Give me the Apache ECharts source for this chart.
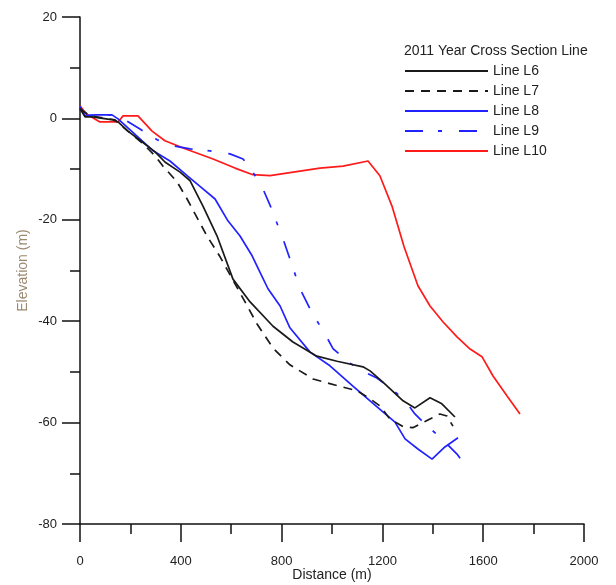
<!DOCTYPE html>
<html>
<head>
<meta charset="utf-8">
<script src="https://cdn.jsdelivr.net/npm/echarts@6/dist/echarts.min.js"></script>
<style>html,body{margin:0;padding:0;background:#fff;}#c{width:616px;height:585px;}</style>
</head>
<body>
<div id="c"></div>
<script>
var legendTitle = '2011 Year Cross Section Line';
var seriesNames = ['Line L6', 'Line L7', 'Line L8', 'Line L9', 'Line L10'];
var xTicks = [0, 400, 800, 1200, 1600, 2000];
var yTicks = [-80, -60, -40, -20, 0, 20];

var l6Dist = [0, 20, 48, 131, 151, 190, 246, 298, 337, 397, 437, 488, 544, 607, 675, 766, 845, 940, 1020, 1123, 1151, 1202, 1282, 1329, 1389, 1436, 1488];
var l6Elev = [1.9, 0.3, 0.3, -0.3, -0.7, -2.5, -4.6, -6.6, -8.6, -10.6, -12.3, -17.3, -23.2, -31.7, -36.2, -41.0, -44.1, -46.9, -47.9, -49.0, -49.8, -52.0, -55.7, -57.1, -55.1, -56.3, -58.9];

var l7Dist = [0, 40, 139, 190, 246, 298, 329, 385, 425, 456, 504, 556, 607, 655, 702, 766, 833, 925, 1020, 1099, 1151, 1190, 1230, 1282, 1321, 1369, 1428, 1456, 1480];
var l7Elev = [1.9, 0.5, -0.3, -2.5, -4.8, -7.4, -9.4, -12.5, -15.9, -18.8, -23.2, -27.3, -31.9, -36.2, -40.5, -45.3, -48.6, -51.4, -52.7, -53.7, -55.3, -56.7, -59.3, -60.8, -61.0, -59.8, -58.3, -58.7, -60.7];

var l8Dist = [0, 20, 60, 127, 151, 226, 290, 357, 425, 488, 536, 587, 635, 683, 714, 746, 794, 833, 913, 992, 1083, 1151, 1202, 1250, 1290, 1341, 1397, 1448, 1500];
var l8Elev = [2.3, 0.5, 0.7, 0.7, -0.1, -3.5, -6.4, -8.4, -11.3, -13.9, -15.9, -20.2, -23.2, -27.1, -30.3, -33.6, -37.0, -41.3, -46.1, -48.8, -52.8, -55.7, -57.9, -59.9, -63.2, -65.2, -67.2, -64.8, -63.0];

var l9Dist = [0, 20, 60, 127, 159, 179, 238, 306, 369, 437, 516, 595, 647, 686, 726, 754, 778, 806, 833, 873, 913, 940, 972, 1004, 1063, 1119, 1178, 1238, 1290, 1329, 1381, 1436, 1496, 1532];
var l9Elev = [2.3, 0.5, 0.7, 0.7, 0.1, -0.3, -2.1, -4.2, -5.4, -6.0, -6.4, -7.0, -8.0, -10.6, -13.9, -17.1, -20.2, -23.8, -27.7, -33.6, -37.6, -39.9, -42.5, -45.4, -48.0, -49.8, -51.2, -53.4, -55.7, -58.3, -60.8, -63.2, -66.2, -68.7];

var l10Dist = [0, 24, 79, 151, 171, 230, 286, 337, 417, 528, 615, 686, 754, 952, 1044, 1143, 1190, 1238, 1286, 1341, 1389, 1440, 1496, 1548, 1595, 1639, 1694, 1746];
var l10Elev = [2.5, 0.9, -0.7, -0.7, 0.5, 0.5, -2.5, -4.4, -6.0, -8.0, -9.8, -11.1, -11.3, -9.8, -9.4, -8.4, -11.3, -17.3, -25.3, -33.0, -37.0, -40.1, -43.1, -45.5, -47.0, -50.8, -54.7, -58.3];

function pairs(xs, ys) { return xs.map(function (x, i) { return [x, ys[i]]; }); }

var allDist = [l6Dist, l7Dist, l8Dist, l9Dist, l10Dist];
var allElev = [l6Elev, l7Elev, l8Elev, l9Elev, l10Elev];
var colors = ['#1a1a1a', '#1a1a1a', '#2222ff', '#2222ff', '#ff1a1a'];
var dashes = ['solid', [9, 7], 'solid', [18, 15, 4, 17], 'solid'];

var FONT = '"Liberation Sans", Arial, sans-serif';

var chart = echarts.init(document.getElementById('c'));
chart.setOption({
  animation: false,
  backgroundColor: '#ffffff',
  title: {
    text: legendTitle,
    left: 404, top: 44, padding: 0,
    textStyle: { fontFamily: FONT, fontSize: 14, fontWeight: 'normal', color: '#222' }
  },
  legend: {
    orient: 'vertical',
    left: 404, top: 64,
    itemWidth: 83, itemHeight: 14, itemGap: 6,
    padding: 0,
    itemStyle: { opacity: 0 },
    textStyle: { fontFamily: FONT, fontSize: 14, color: '#222', lineHeight: 14 },
    data: seriesNames
  },
  grid: { left: 80, right: 32, top: 17, bottom: 61, containLabel: false, outerBoundsMode: 'none' },
  xAxis: {
    type: 'value', min: xTicks[0], max: xTicks[xTicks.length - 1], interval: 400,
    name: 'Distance (m)', nameLocation: 'middle', nameGap: 44, nameMoveOverlap: false,
    nameTextStyle: { fontFamily: FONT, fontSize: 14, color: '#222' },
    axisLine: { show: true, onZero: false, lineStyle: { color: '#111', width: 1.5 } },
    axisTick: { show: true, length: 18, lineStyle: { color: '#111', width: 1.5 } },
    minorTick: { show: true, splitNumber: 2, length: 10, lineStyle: { color: '#111', width: 1.5 } },
    splitLine: { show: false },
    axisLabel: { margin: 31, fontFamily: FONT, fontSize: 13, color: '#222', formatter: function (v) { return String(v); } }
  },
  yAxis: {
    type: 'value', min: yTicks[0], max: yTicks[yTicks.length - 1], interval: 20,
    name: 'Elevation (m)', nameLocation: 'middle', nameGap: 50, nameMoveOverlap: false,
    nameTextStyle: { fontFamily: FONT, fontSize: 14, color: '#9b8a70' },
    axisLine: { show: true, onZero: false, lineStyle: { color: '#111', width: 1.5 } },
    axisTick: { show: true, length: 18, lineStyle: { color: '#111', width: 1.5 } },
    minorTick: { show: true, splitNumber: 2, length: 10, lineStyle: { color: '#111', width: 1.5 } },
    splitLine: { show: false },
    axisLabel: { margin: 23, fontFamily: FONT, fontSize: 13, color: '#222', formatter: function (v) { return String(v); } }
  },
  series: seriesNames.map(function (n, i) {
    return {
      name: n, type: 'line', data: pairs(allDist[i], allElev[i]),
      showSymbol: false, symbol: 'none', clip: false,
      color: colors[i],
      lineStyle: { color: colors[i], width: 1.7, type: dashes[i] },
      z: 10 - i
    };
  })
});
</script>
</body>
</html>
